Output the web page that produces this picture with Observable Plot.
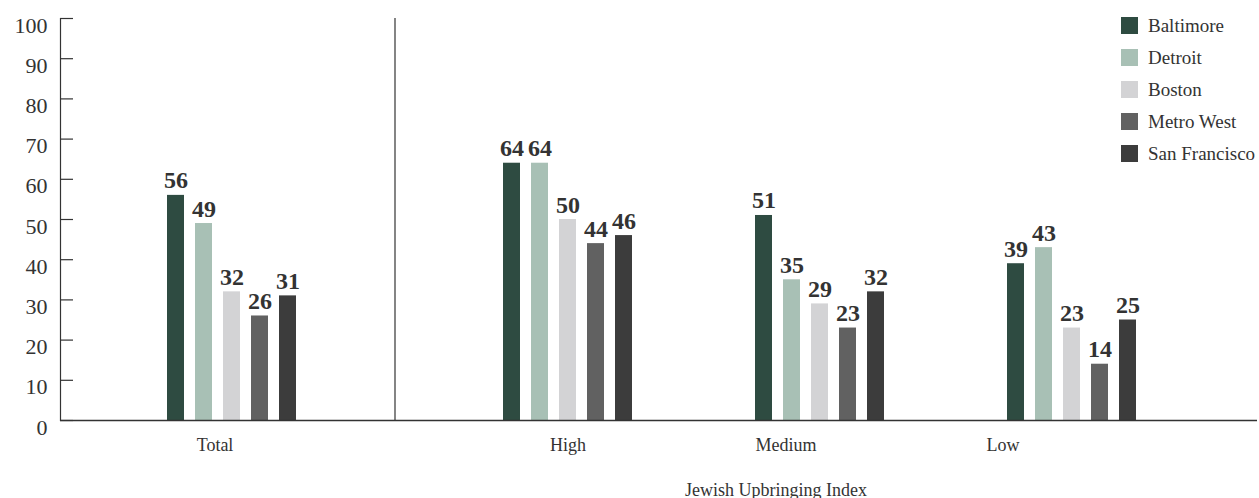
<!DOCTYPE html>
<html>
<head>
<meta charset="utf-8">
<script src="https://cdn.jsdelivr.net/npm/d3@7"></script>
<script src="https://cdn.jsdelivr.net/npm/@observablehq/plot@0.6"></script>
<style>
  body { margin: 0; background: #fff; }
  #chart { position: relative; width: 1259px; height: 498px; font-family: "Liberation Serif", serif; }
  #chart .key-swatches { position: absolute; left: 1121px; top: 17px; width: 138px; margin: 0;
    font-family: "Liberation Serif", serif; font-size: 19px; color: #333; }
  #chart .key-swatch { padding-bottom: 15px; line-height: 17px; overflow: visible; }
  #chart .key-swatch > svg { margin-right: 10px; }
  #chart .key-swatch-label { overflow: visible; text-overflow: clip; white-space: nowrap; }
</style>
</head>
<body>
<div id="chart"></div>
<script>
// Share (%) by community, overall and by Jewish Upbringing Index level
const groups = ["Total", "High", "Medium", "Low"];
const cities = ["Baltimore", "Detroit", "Boston", "Metro West", "San Francisco"];
const baltimore    = [56, 64, 51, 39];
const detroit      = [49, 64, 35, 43];
const boston       = [32, 50, 29, 23];
const metroWest    = [26, 44, 23, 14];
const sanFrancisco = [31, 46, 32, 25];
const yTicks = [0, 10, 20, 30, 40, 50, 60, 70, 80, 90, 100];
const axisTitle = "Jewish Upbringing Index";

const series = [baltimore, detroit, boston, metroWest, sanFrancisco];
const colors = ["#2e4b41", "#a8c0b5", "#d3d3d5", "#616161", "#3c3c3c"];

// one row per bar
const rows = [];
groups.forEach((g, gi) => cities.forEach((c, ci) => {
  rows.push({group: g, city: c, value: series[ci][gi], key: `${g}|${c}`});
}));

// band domain: the five bars of each group, then empty bands as spacing
const spacerRuns = {Total: 7, High: 4, Medium: 4};
const keyDomain = [];
let gapId = 0;
for (const g of groups) {
  for (const c of cities) keyDomain.push(`${g}|${c}`);
  for (let i = 0; i < (spacerRuns[g] || 0); i++) keyDomain.push(`gap${gapId++}`);
}
const dividerKey = "gap3";
// horizontal nudges of the group captions
const captionShift = {Total: -17, High: 0, Medium: -34, Low: -69};

const ink = "#333";

const chart = Plot.plot({
  width: 1259,
  height: 498,
  marginLeft: 60,
  marginRight: 2,
  marginTop: 18,
  marginBottom: 78,
  style: {fontFamily: "Liberation Serif, serif", color: ink, background: "#fff"},
  x: {type: "band", domain: keyDomain, paddingInner: 0.41, paddingOuter: 4.07, align: 0.468, axis: null},
  y: {domain: [0, 100]},
  color: {domain: cities, range: colors},
  marks: [
    Plot.barY(rows, {x: "key", y: "value", fill: "city"}),
    Plot.frame({anchor: "left", stroke: ink, strokeWidth: 1.2}),
    Plot.ruleY([0], {stroke: ink, strokeWidth: 1.4}),
    Plot.ruleX([dividerKey], {y1: 0, y2: 100, dx: -5, stroke: ink, strokeWidth: 1.2}),
    Plot.axisY({ticks: yTicks, tickSize: -13, tickFormat: () => "", label: null, stroke: ink, strokeWidth: 1.2}),
    Plot.text(yTicks, {y: d => d, text: d => String(d), frameAnchor: "left", textAnchor: "end",
      dx: -13, dy: 7, fontSize: 22, fill: ink}),
    Plot.text(rows, {x: "key", y: "value", text: d => String(d.value), dy: -7, lineAnchor: "bottom",
      fontSize: 24, fontWeight: "bold", fill: ink}),
    ...groups.map(g => Plot.text([g], {x: d => `${d}|Boston`, y: 0, text: d => d, dy: 30, dx: captionShift[g],
      lineAnchor: "bottom", fontSize: 18, fill: ink})),
    Plot.text([axisTitle], {x: () => "Medium|Boston", y: 0, text: d => d, dy: 75, dx: -44,
      lineAnchor: "bottom", fontSize: 18, fill: ink})
  ]
});

const legend = Plot.legend({
  color: {domain: cities, range: colors},
  legend: "swatches",
  columns: 1,
  swatchSize: 17,
  className: "key"
});

const root = document.getElementById("chart");
root.appendChild(chart);
root.appendChild(legend);
</script>
</body>
</html>
